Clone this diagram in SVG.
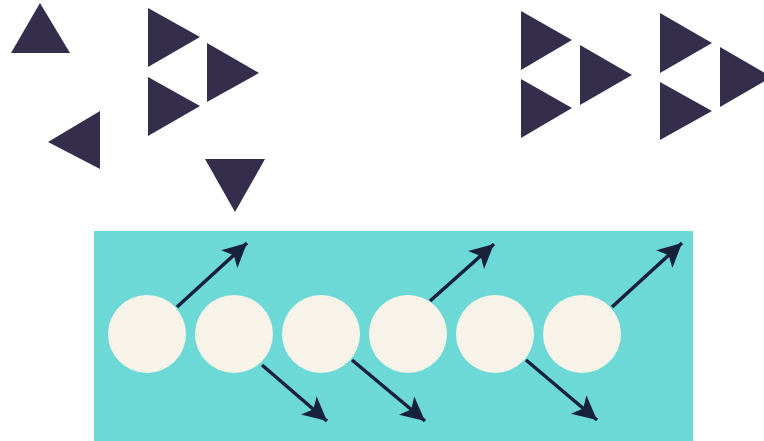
<svg xmlns="http://www.w3.org/2000/svg" width="764" height="441" viewBox="0 0 764 441">
<style>
.tri{fill:#342d4b}
.ball{fill:#f8f3e8}
.arr{stroke:#16213a;stroke-width:3.5;fill:none;marker-end:url(#ah)}
</style>
<defs>
<marker id="ah" markerUnits="userSpaceOnUse" markerWidth="28" markerHeight="28" refX="24" refY="12" orient="auto" overflow="visible">
<path d="M0,0 L24,12 L0,24 L6,12 z" fill="#16213a"/>
</marker>
</defs>
<rect width="764" height="441" fill="#ffffff"/>
<g id="tri-up"><polygon class="tri" points="40,3 70,53 11,53"/></g>
<g id="tri-left"><polygon class="tri" points="100,111 100,169 48,142"/></g>
<g id="tri-down"><polygon class="tri" points="205,159 265,159 235,212"/></g>
<g id="group-left">
<polygon class="tri" points="148,8 200,37 148,67"/>
<polygon class="tri" points="207,43 259,73 207,102"/>
<polygon class="tri" points="148,77 200,106 148,136"/>
</g>
<g id="group-mid">
<polygon class="tri" points="521,11 572,40 521,70"/>
<polygon class="tri" points="580,45 632,75 580,105"/>
<polygon class="tri" points="521,79 572,108 521,138"/>
</g>
<g id="group-right">
<polygon class="tri" points="660,13 712,43 660,73"/>
<polygon class="tri" points="720,47 772,77 720,107"/>
<polygon class="tri" points="660,82 712,111 660,140"/>
</g>
<g id="panel"><rect x="94" y="231" width="599" height="210" fill="#6cd9d6"/></g>
<g id="b1"><circle class="ball" cx="147" cy="334" r="39"/></g>
<g id="b2"><circle class="ball" cx="234" cy="334" r="39"/></g>
<g id="b3"><circle class="ball" cx="321" cy="334" r="39"/></g>
<g id="b4"><circle class="ball" cx="408" cy="334" r="39"/></g>
<g id="b5"><circle class="ball" cx="495" cy="334" r="39"/></g>
<g id="b6"><circle class="ball" cx="582" cy="334" r="39"/></g>
<g id="connectors">
<line class="arr" x1="177" y1="307" x2="247" y2="243"/>
<line class="arr" x1="262" y1="365" x2="327" y2="421"/>
<line class="arr" x1="352" y1="360" x2="425" y2="421"/>
<line class="arr" x1="430" y1="301" x2="494" y2="244"/>
<line class="arr" x1="526" y1="360" x2="597" y2="420"/>
<line class="arr" x1="612" y1="307" x2="682" y2="243"/>
</g>
</svg>
